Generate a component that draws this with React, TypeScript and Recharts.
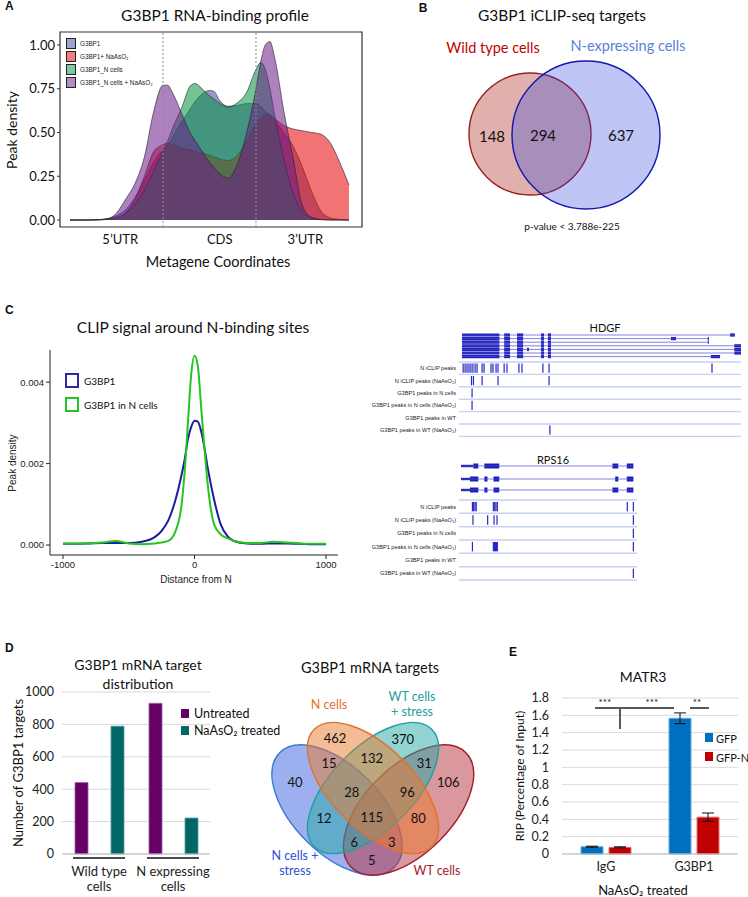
import React from "react";
import {
  AreaChart,
  Area,
  LineChart,
  Line,
  BarChart,
  Bar,
  ErrorBar,
  ScatterChart,
  Scatter,
  XAxis,
  YAxis,
  CartesianGrid,
  ReferenceLine,
  ReferenceArea,
} from "recharts";

const CAL = "Lato, 'Open Sans', sans-serif";
const ARIAL = "'Liberation Sans', Arial, sans-serif";

// ---------- A: metagene profile ----------
const metaPos = [0, 0.1, 0.2, 0.3, 0.4, 0.5, 0.6, 0.7, 0.8, 0.9, 1.0, 1.05, 1.1, 1.2, 1.3, 1.35, 1.4, 1.5, 1.55, 1.6, 1.7, 1.8, 1.9, 2.0, 2.05, 2.1, 2.15, 2.2, 2.3, 2.4, 2.5, 2.6, 2.7, 2.8, 2.9, 3.0];
const g3bp1Density = [0, 0, 0, 0.002, 0.008, 0.025, 0.06, 0.13, 0.23, 0.33, 0.4, 0.43, 0.47, 0.56, 0.64, 0.68, 0.71, 0.74, 0.735, 0.69, 0.65, 0.655, 0.665, 0.665, 0.65, 0.62, 0.6, 0.57, 0.5, 0.42, 0.3, 0.16, 0.05, 0.012, 0.003, 0];
const g3bp1ArsDensity = [0, 0, 0, 0.001, 0.004, 0.01, 0.04, 0.12, 0.25, 0.39, 0.43, 0.44, 0.43, 0.41, 0.4, 0.39, 0.385, 0.37, 0.36, 0.35, 0.34, 0.37, 0.45, 0.55, 0.58, 0.6, 0.6, 0.58, 0.54, 0.52, 0.51, 0.5, 0.49, 0.44, 0.33, 0.2];
const g3bp1NDensity = [0, 0, 0, 0, 0.004, 0.015, 0.04, 0.09, 0.17, 0.28, 0.39, 0.45, 0.52, 0.64, 0.77, 0.78, 0.76, 0.71, 0.69, 0.67, 0.645, 0.67, 0.73, 0.86, 0.9, 0.86, 0.75, 0.6, 0.35, 0.15, 0.05, 0.01, 0.002, 0, 0, 0];
const g3bp1NArsDensity = [0, 0, 0, 0.002, 0.006, 0.04, 0.12, 0.21, 0.36, 0.62, 0.77, 0.77, 0.73, 0.61, 0.49, 0.45, 0.41, 0.33, 0.3, 0.27, 0.24, 0.32, 0.5, 0.75, 0.9, 1.0, 1.02, 0.93, 0.62, 0.35, 0.08, 0.015, 0.003, 0, 0, 0];
const regionTickPos = [0.54, 1.61, 2.53];
const regionNames = ["5’UTR", "CDS", "3’UTR"];
const regionBounds = [1, 2];
const densityTicks = [0, 0.25, 0.5, 0.75, 1];

const profileSeries = [
  { key: "g3bp1", name: "G3BP1", fill: "#3f479f", swatch: "#9fa3cf" },
  { key: "g3bp1Ars", name: "G3BP1+ NaAsO₂", fill: "#e80000", swatch: "#f47c7c" },
  { key: "g3bp1N", name: "G3BP1_N cells", fill: "#009141", swatch: "#7cc8a0" },
  { key: "g3bp1NArs", name: "G3BP1_N cells + NaAsO₂", fill: "#691989", swatch: "#b48cc4" },
];

const profileRows = metaPos.map((pos, i) => ({
  pos,
  g3bp1: g3bp1Density[i],
  g3bp1Ars: g3bp1ArsDensity[i],
  g3bp1N: g3bp1NDensity[i],
  g3bp1NArs: g3bp1NArsDensity[i],
}));

// ---------- B: two-set Venn ----------
const iclipSetNames = ["Wild type cells", "N-expressing cells"];
const iclipCounts = [148, 294, 637];

// ---------- C: CLIP signal ----------
const distances = [-1000, -900, -800, -700, -600, -500, -400, -300, -250, -200, -150, -100, -75, -50, -25, 0, 25, 50, 75, 100, 150, 200, 250, 300, 400, 500, 600, 700, 800, 900, 1000];
const g3bp1Signal = [0.00003, 0.00003, 0.00004, 0.00005, 0.00005, 0.00005, 0.00008, 0.0002, 0.00035, 0.0006, 0.00105, 0.0017, 0.0021, 0.0026, 0.0029, 0.00305, 0.00303, 0.0028, 0.0024, 0.0019, 0.0011, 0.0005, 0.00022, 0.0001, 0.00004, 0.00003, 0.00004, 0.00004, 0.00003, 0.00002, 0.00002];
const g3bp1NSignal = [0.00004, 0.00004, 0.00004, 0.00006, 0.0001, 0.00004, 0.00002, 0.00004, 0.00006, 0.0001, 0.0003, 0.00095, 0.0018, 0.003, 0.0042, 0.00465, 0.0044, 0.0034, 0.0024, 0.0015, 0.0005, 0.00026, 0.00017, 0.0001, 0.00005, 0.00005, 0.00008, 0.00006, 0.00004, 0.00003, 0.00003];
const signalRows = distances.map((d, i) => ({ d, g3bp1: g3bp1Signal[i], g3bp1N: g3bp1NSignal[i] }));

// genome browser tracks
const trackNames = [
  "N iCLIP peaks",
  "N iCLIP peaks (NaAsO₂)",
  "G3BP1 peaks in N cells",
  "G3BP1 peaks in N cells (NaAsO₂)",
  "G3BP1 peaks in WT",
  "G3BP1 peaks in WT (NaAsO₂)",
];
const hdgfCommon = [[0, 13.4], [15.1, 17.2], [19.7, 21.9], [28.3, 29.4], [30.8, 31.9]];
const hdgfTranscripts = [
  { end: 97.8, utr: [], exons: [...hdgfCommon, [96.1, 97.8]] },
  { end: 88.5, utr: [], exons: [...hdgfCommon, [74.9, 76.7], [88.1, 88.5]] },
  { end: 88.5, utr: [], exons: [...hdgfCommon, [88.1, 88.5]] },
  { end: 100, utr: [], exons: [...hdgfCommon, [97.6, 100]] },
  { end: 100, utr: [], exons: [...hdgfCommon, [23.3, 24.0], [97.6, 100]] },
  { end: 100, utr: [], exons: [...hdgfCommon, [97.6, 100]] },
  { end: 92.5, utr: [], exons: [...hdgfCommon, [89.2, 92.5]] },
];
const hdgfPeaks = [
  [0.4, 1.1, 1.8, 2.5, 3.2, 3.9, 4.7, 5.4, 7.2, 7.9, 10.4, 11.1, 12.2, 12.9, 15.1, 16.1, 20.4, 21.5, 29.0, 31.2, 89.6],
  [3.4, 4.1, 7.2, 12.9, 31.2],
  [3.6],
  [3.6],
  [],
  [31.5],
];
const rps16Transcripts = [
  { end: 99.6, utr: [[0, 7.1]], exons: [[7.1, 10], [13.5, 22.1], [87.5, 90.9], [95.8, 99.6]] },
  { end: 99.6, utr: [[0, 5.2]], exons: [[5.2, 10], [13.5, 15.3], [18.8, 22.1], [89.1, 90.9], [95.8, 99.6]] },
  { end: 99.6, utr: [[0, 5.2]], exons: [[5.2, 10], [13.5, 15.3], [18.8, 22.1], [87.5, 90.9], [95.8, 99.6]] },
];
const rps16Peaks = [
  [6.6, 7.3, 8.1, 8.8, 18.7, 19.5, 20.2, 21.0, 96.1, 99.6],
  [6.9, 15.4, 19.1, 20.8, 99.6],
  [99.6],
  [6.6, 18.7, 19.3, 19.9, 20.5, 21.0, 99.6],
  [],
  [99.6],
];

// ---------- D: target counts ----------
const targetGroups = ["Wild type cells", "N expressing cells"];
const targetGroupLines = [["Wild type", "cells"], ["N expressing", "cells"]];
const untreatedTargets = [441, 930];
const arseniteTargets = [789, 222];
const targetTicks = [0, 200, 400, 600, 800, 1000];
const targetRows = targetGroups.map((g, i) => ({ g, untreated: untreatedTargets[i], ars: arseniteTargets[i] }));

const quadCounts = [462, 370, 15, 132, 31, 40, 106, 28, 96, 115, 12, 80, 6, 3, 5];

// ---------- E: MATR3 RIP ----------
const ripCats = ["IgG", "G3BP1"];
const ripGfp = [0.084, 1.566];
const ripGfpErr = [0.006, 0.062];
const ripGfpN = [0.077, 0.425];
const ripGfpNErr = [0.006, 0.048];
const ripTicks = [0, 0.2, 0.4, 0.6, 0.8, 1, 1.2, 1.4, 1.6, 1.8];
const ripRows = ripCats.map((c, i) => ({ c, gfp: ripGfp[i], gfpErr: ripGfpErr[i], gfpN: ripGfpN[i], gfpNErr: ripGfpNErr[i] }));

// ---------- layout constants ----------
const vennBLayout = {
  circles: [
    { x: 150, y: 134, r: 61, fill: "#b03a30", op: 0.4, stroke: "#a01c1c" },
    { x: 206, y: 135, r: 74, fill: "#2a40dd", op: 0.3, stroke: "#1414b0" },
  ],
  labelPos: [[112, 136], [163, 135], [241, 135]],
};
const vennDLayout = {
  ellipses: [
    { x: 87, y: 180, rx: 81, ry: 43.5, rot: 45, fill: "#3a62e0", stroke: "#3a7bd5" },
    { x: 158.6, y: 180, rx: 81, ry: 43.5, rot: -45, fill: "#b8303e", stroke: "#a51d2d" },
    { x: 123, y: 158, rx: 83, ry: 41, rot: -45, fill: "#26a8a8", stroke: "#1f9fa0" },
    { x: 123, y: 158, rx: 83, ry: 41, rot: 45, fill: "#ea7a2c", stroke: "#e0722a" },
  ],
  labelPos: [[85, 108], [152.7, 109], [79, 133], [121.7, 128], [174.3, 133], [45, 151.7], [198.3, 151.7], [101.7, 161.7], [157.3, 161.7], [121.7, 186.7], [74, 188], [168.3, 188], [104.3, 211.7], [141.7, 211.7], [121.7, 230]],
};

// ---------- helpers ----------
const Txt = ({ x, y, size = 12, color = "#111", weight = 400, font = CAL, rotate = 0, align = "center", children }: any) => (
  <div
    style={{
      position: "absolute",
      left: x,
      top: y,
      transform: `translate(${align === "center" ? "-50%" : align === "right" ? "-100%" : "0"}, -50%) rotate(${rotate}deg)`,
      fontSize: size,
      color,
      fontWeight: weight,
      fontFamily: font,
      whiteSpace: "nowrap",
      lineHeight: 1,
    }}
  >
    {children}
  </div>
);

const Box = ({ x, y, w, h, fill, border }: any) => (
  <div style={{ position: "absolute", left: x, top: y, width: w, height: h, background: fill, border, boxSizing: "border-box" }} />
);

const Abs = ({ x, y, children }: any) => <div style={{ position: "absolute", left: x, top: y }}>{children}</div>;

function VennChart({ w, h, shapes, labels, fontSize }: any) {
  return (
    <ScatterChart width={w} height={h} margin={{ top: 0, right: 0, bottom: 0, left: 0 }}>
      <XAxis type="number" dataKey="x" domain={[0, w]} hide />
      <YAxis type="number" dataKey="y" domain={[0, h]} reversed hide />
      <Scatter
        data={shapes}
        isAnimationActive={false}
        shape={(p: any) => (
          <ellipse
            cx={p.cx}
            cy={p.cy}
            rx={p.payload.rx}
            ry={p.payload.ry}
            transform={`rotate(${p.payload.rot} ${p.cx} ${p.cy})`}
            fill={p.payload.fill}
            fillOpacity={p.payload.op}
            stroke={p.payload.stroke}
            strokeWidth={1.4}
          />
        )}
      />
      <Scatter
        data={labels}
        isAnimationActive={false}
        shape={(p: any) => (
          <text x={p.cx} y={p.cy} textAnchor="middle" dominantBaseline="central" fontSize={fontSize} fontFamily={CAL} fill="#111">
            {p.payload.n}
          </text>
        )}
      />
    </ScatterChart>
  );
}

const TrackTick = (props: any) => {
  const { x, y, index } = props;
  return (
    <text x={x} y={y} textAnchor="end" dominantBaseline="central" fontSize={5.6} fontFamily={ARIAL} fill="#222">
      {trackNames[index]}
    </text>
  );
};

function GeneTracks({ w, h, margin, xDomain, yDomain, transcripts, rowY, exonH, utrH, seps, peaks, peakHalf }: any) {
  const centers = seps.slice(0, trackNames.length).map((s: number, i: number) => (s + seps[i + 1]) / 2);
  const peakPts = peaks.flatMap((list: number[], t: number) => list.map((x) => ({ x, y: centers[t] })));
  return (
    <ScatterChart width={w} height={h} margin={margin}>
      <XAxis type="number" dataKey="x" domain={xDomain} hide allowDataOverflow />
      <YAxis
        type="number"
        dataKey="y"
        domain={yDomain}
        reversed
        width={89}
        ticks={centers}
        interval={0}
        axisLine={false}
        tickLine={false}
        tickSize={1}
        tickMargin={2}
        tick={<TrackTick />}
        allowDataOverflow
      />
      {seps.map((s: number, i: number) => (
        <ReferenceLine key={"s" + i} y={s} stroke="#c9d1f2" strokeWidth={1.4} />
      ))}
      {transcripts.map((t: any, i: number) => (
        <ReferenceLine
          key={"i" + i}
          segment={[{ x: 0, y: rowY[i] }, { x: t.end, y: rowY[i] }]}
          stroke="#4a4ad8"
          strokeWidth={0.7}
        />
      ))}
      {transcripts.flatMap((t: any, i: number) =>
        t.utr.map((e: number[], j: number) => (
          <ReferenceArea key={`u${i}-${j}`} x1={e[0]} x2={e[1]} y1={rowY[i] - utrH / 2} y2={rowY[i] + utrH / 2} fill="#1c1cb8" fillOpacity={1} stroke="none" />
        ))
      )}
      {transcripts.flatMap((t: any, i: number) =>
        t.exons.map((e: number[], j: number) => (
          <ReferenceArea key={`e${i}-${j}`} x1={e[0]} x2={e[1]} y1={rowY[i] - exonH / 2} y2={rowY[i] + exonH / 2} fill="#1c1cb8" fillOpacity={1} stroke="none" />
        ))
      )}
      <Scatter
        data={peakPts}
        isAnimationActive={false}
        shape={(p: any) => <line x1={p.cx} x2={p.cx} y1={p.cy - peakHalf} y2={p.cy + peakHalf} stroke="#2727c4" strokeWidth={1.2} />}
      />
    </ScatterChart>
  );
}

const GroupTick = (props: any) => {
  const { x, index, payload } = props;
  const lines = targetGroupLines[index] ?? [payload.value];
  return (
    <g>
      <line x1={x - 26} x2={x + 26} y1={228} y2={228} stroke="#111" strokeWidth={1.6} />
      {lines.map((l: string, i: number) => (
        <text key={i} x={x} y={241 + i * 15} textAnchor="middle" dominantBaseline="central" fontSize={13} fontFamily={CAL} fill="#222">
          {l}
        </text>
      ))}
    </g>
  );
};

const HLine = ({ x1, x2, y }: any) => (
  <div style={{ position: "absolute", left: x1, top: y - 0.6, width: x2 - x1, height: 1.2, background: "#595959" }} />
);
const VLine = ({ x, y1, y2 }: any) => (
  <div style={{ position: "absolute", left: x - 0.6, top: y1, width: 1.2, height: y2 - y1, background: "#595959" }} />
);

export default function App() {
  const bShapes = vennBLayout.circles.map((c) => ({ x: c.x, y: c.y, rx: c.r, ry: c.r, rot: 0, fill: c.fill, op: c.op, stroke: c.stroke }));
  const bLabels = iclipCounts.map((n, i) => ({ n, x: vennBLayout.labelPos[i][0], y: vennBLayout.labelPos[i][1] }));
  const dShapes = vennDLayout.ellipses.map((e) => ({ ...e, op: 0.5 }));
  const dLabels = quadCounts.map((n, i) => ({ n, x: vennDLayout.labelPos[i][0], y: vennDLayout.labelPos[i][1] }));

  return (
    <div style={{ position: "absolute", left: 0, top: 0, width: 748, height: 897, overflow: "hidden", background: "#fff" }}>
      {/* ---------- A ---------- */}
      <Abs x={0} y={0}>
        <AreaChart width={370} height={275} data={profileRows} margin={{ top: 32, right: 8, bottom: 18, left: 20 }}>
          <XAxis
            type="number"
            dataKey="pos"
            domain={[-0.1075, 3.14]}
            ticks={regionTickPos}
            interval={0}
            tickFormatter={(v: number) => regionNames[regionTickPos.indexOf(v)]}
            axisLine={false}
            tickLine={false}
            tick={{ fontSize: 13, fill: "#111", fontFamily: CAL }}
            allowDataOverflow
          />
          <YAxis
            domain={[-0.04, 1.0743]}
            ticks={densityTicks}
            interval={0}
            tickFormatter={(v: number) => v.toFixed(2)}
            width={40}
            axisLine={false}
            tickLine={{ stroke: "#333" }}
            tickSize={3}
            tick={{ fontSize: 13, fill: "#111", fontFamily: CAL }}
            allowDataOverflow
          />
          {profileSeries.map((s) => (
            <Area
              key={s.key}
              dataKey={s.key}
              type="monotone"
              fill={s.fill}
              fillOpacity={0.55}
              stroke="#222"
              strokeWidth={0.6}
              baseValue={0}
              dot={false}
              activeDot={false}
              isAnimationActive={false}
            />
          ))}
          {regionBounds.map((b) => (
            <ReferenceLine key={b} x={b} stroke="#8a8a8a" strokeDasharray="2 2" strokeWidth={1} />
          ))}
          <ReferenceArea x1={-0.1075} x2={3.14} y1={-0.04} y2={1.0743} fill="none" stroke="#333" strokeWidth={1.2} />
        </AreaChart>
      </Abs>
      {profileSeries.map((s, i) => (
        <React.Fragment key={s.key}>
          <Box x={66} y={38 + i * 13} w={10} h={11} fill={s.swatch} border="1.3px solid #222" />
          <Txt x={80} y={43.5 + i * 13} size={6.3} font={ARIAL} align="left" color="#222">
            {s.name}
          </Txt>
        </React.Fragment>
      ))}
      <Txt x={5} y={6} size={12} weight={700} font={ARIAL} align="left">A</Txt>
      <Txt x={215} y={16} size={15.5}>G3BP1 RNA-binding profile</Txt>
      <Txt x={12} y={130} size={14} rotate={-90}>Peak density</Txt>
      <Txt x={218} y={262} size={14.5}>Metagene Coordinates</Txt>

      {/* ---------- B ---------- */}
      <Abs x={380} y={0}>
        <VennChart w={368} h={270} shapes={bShapes} labels={bLabels} fontSize={15} />
      </Abs>
      <Txt x={423} y={8} size={12} weight={700} font={ARIAL}>B</Txt>
      <Txt x={562} y={16} size={15.5}>G3BP1 iCLIP-seq targets</Txt>
      <Txt x={493} y={48} size={14.5} color="#c00000">{iclipSetNames[0]}</Txt>
      <Txt x={628} y={46} size={14.5} color="#5a7fd8">{iclipSetNames[1]}</Txt>
      <Txt x={572} y={226} size={10}>p-value &lt; 3.788e-225</Txt>

      {/* ---------- C ---------- */}
      <Abs x={0} y={290}>
        <LineChart width={370} height={330} data={signalRows} margin={{ top: 60, right: 32, bottom: 35, left: 10 }}>
          <XAxis
            type="number"
            dataKey="d"
            domain={[-1099, 1091]}
            ticks={[-1000, 0, 1000]}
            interval={0}
            axisLine={{ stroke: "#222" }}
            tickLine={{ stroke: "#222" }}
            tickSize={4}
            tick={{ fontSize: 9.5, fill: "#222", fontFamily: ARIAL }}
            allowDataOverflow
          />
          <YAxis
            domain={[-0.000245, 0.00479]}
            ticks={[0, 0.002, 0.004]}
            interval={0}
            tickFormatter={(v: number) => v.toFixed(3)}
            width={40}
            axisLine={{ stroke: "#222" }}
            tickLine={{ stroke: "#222" }}
            tickSize={4}
            tick={{ fontSize: 9.5, fill: "#222", fontFamily: ARIAL }}
            allowDataOverflow
          />
          <Line dataKey="g3bp1" type="monotone" stroke="#1c1c9c" strokeWidth={2} dot={false} activeDot={false} isAnimationActive={false} />
          <Line dataKey="g3bp1N" type="monotone" stroke="#22c522" strokeWidth={2} dot={false} activeDot={false} isAnimationActive={false} />
        </LineChart>
      </Abs>
      <Box x={65} y={373} w={14} h={15} fill="#fff" border="2px solid #2a2aa8" />
      <Box x={65} y={397} w={14} h={15} fill="#fff" border="2px solid #22c522" />
      <Txt x={84} y={381} size={10} align="left">G3BP1</Txt>
      <Txt x={84} y={404.5} size={10} align="left">G3BP1 in N cells</Txt>
      <Txt x={5} y={310} size={12} weight={700} font={ARIAL} align="left">C</Txt>
      <Txt x={193} y={328} size={15.5}>CLIP signal around N-binding sites</Txt>
      <Txt x={13} y={463} size={10} font={ARIAL} rotate={-90} color="#222">Peak density</Txt>
      <Txt x={196} y={580} size={10} font={ARIAL} color="#222">Distance from N</Txt>

      <Abs x={370} y={320}>
        <GeneTracks
          w={378}
          h={125}
          margin={{ top: 10, right: 7, bottom: 5, left: 0 }}
          xDomain={[-1.08, 100]}
          yDomain={[0, 110]}
          transcripts={hdgfTranscripts}
          rowY={[5, 8.6, 12.2, 15.8, 19.4, 23, 26.6]}
          exonH={3.2}
          utrH={2}
          seps={[32, 44.4, 56.8, 69.2, 81.6, 94, 106.4]}
          peaks={hdgfPeaks}
          peakHalf={4.6}
        />
      </Abs>
      <Txt x={605} y={327} size={11}>HDGF</Txt>
      <Abs x={370} y={455}>
        <GeneTracks
          w={378}
          h={135}
          margin={{ top: 5, right: 111, bottom: 5, left: 0 }}
          xDomain={[-1.16, 101.7]}
          yDomain={[0, 125]}
          transcripts={rps16Transcripts}
          rowY={[6, 19, 30]}
          exonH={5}
          utrH={2.4}
          seps={[40, 53.3, 66.7, 80, 93.3, 106.7, 120]}
          peaks={rps16Peaks}
          peakHalf={4.7}
        />
      </Abs>
      <Txt x={553} y={459} size={11}>RPS16</Txt>

      {/* ---------- D ---------- */}
      <Abs x={0} y={630}>
        <BarChart width={250} height={267} data={targetRows} margin={{ top: 62, right: 40, bottom: 13, left: 22 }} barSize={13} barGap={23} barCategoryGap={12}>
          <CartesianGrid vertical={false} stroke="#d9d9d9" />
          <XAxis dataKey="g" axisLine={{ stroke: "#bfbfbf" }} tickLine={false} tick={<GroupTick />} interval={0} />
          <YAxis
            domain={[0, 1000]}
            ticks={targetTicks}
            interval={0}
            width={40}
            axisLine={false}
            tickLine={false}
            tick={{ fontSize: 12.5, fill: "#222", fontFamily: CAL }}
          />
          <Bar dataKey="untreated" fill="#660066" stroke="#a064a0" strokeWidth={0.8} isAnimationActive={false} />
          <Bar dataKey="ars" fill="#006666" stroke="#5a9a9a" strokeWidth={0.8} isAnimationActive={false} />
        </BarChart>
      </Abs>
      <Txt x={5} y={648} size={12} weight={700} font={ARIAL} align="left">D</Txt>
      <Txt x={138} y={665} size={14}>G3BP1 mRNA target</Txt>
      <Txt x={138} y={684} size={14}>distribution</Txt>
      <Txt x={18} y={773} size={13} rotate={-90}>Number of G3BP1 targets</Txt>
      <Box x={181} y={709} w={8} h={9} fill="#660066" />
      <Txt x={194} y={713.5} size={12.5} align="left">Untreated</Txt>
      <Box x={181} y={726} w={8} h={9} fill="#006666" />
      <Txt x={194} y={731} size={12.5} align="left">NaAsO₂ treated</Txt>

      <Abs x={250} y={630}>
        <VennChart w={260} h={267} shapes={dShapes} labels={dLabels} fontSize={13} />
      </Abs>
      <Txt x={370} y={668} size={14.5}>G3BP1 mRNA targets</Txt>
      <Txt x={329} y={705} size={12.5} color="#e07030">N cells</Txt>
      <Txt x={412} y={696.5} size={12.5} color="#22a0a0">WT cells</Txt>
      <Txt x={412} y={711.5} size={12.5} color="#22a0a0">+ stress</Txt>
      <Txt x={295} y={856} size={12.5} color="#3050d8">N cells +</Txt>
      <Txt x={295} y={871} size={12.5} color="#3050d8">stress</Txt>
      <Txt x={437} y={871} size={12.5} color="#a82028">WT cells</Txt>

      {/* ---------- E ---------- */}
      <Abs x={520} y={630}>
        <BarChart width={228} height={267} data={ripRows} margin={{ top: 68, right: 10, bottom: 13, left: 12 }} barSize={22} barGap={6} barCategoryGap={19}>
          <CartesianGrid vertical={false} stroke="#d9d9d9" />
          <XAxis dataKey="c" axisLine={{ stroke: "#bfbfbf" }} tickLine={false} interval={0} tick={{ fontSize: 12.5, fill: "#222", fontFamily: CAL }} />
          <YAxis
            domain={[0, 1.8]}
            ticks={ripTicks}
            interval={0}
            tickFormatter={(v: number) => (Number.isInteger(v) ? String(v) : v.toFixed(1))}
            width={30}
            axisLine={false}
            tickLine={false}
            tickMargin={7}
            tick={{ fontSize: 12.5, fill: "#222", fontFamily: CAL }}
          />
          <Bar dataKey="gfp" fill="#0070c0" stroke="#6fa8dc" strokeWidth={1} isAnimationActive={false}>
            <ErrorBar dataKey="gfpErr" width={6} stroke="#111" strokeWidth={1} direction="y" />
          </Bar>
          <Bar dataKey="gfpN" fill="#c00000" stroke="#e07070" strokeWidth={1} isAnimationActive={false}>
            <ErrorBar dataKey="gfpNErr" width={6} stroke="#111" strokeWidth={1} direction="y" />
          </Bar>
        </BarChart>
      </Abs>
      <HLine x1={595} x2={674} y={708} />
      <VLine x={620} y1={708} y2={729} />
      <HLine x1={690} x2={709} y={708} />
      <Txt x={513} y={652} size={12} weight={700} font={ARIAL}>E</Txt>
      <Txt x={643} y={677} size={14}>MATR3</Txt>
      <Txt x={605} y={702} size={10}>***</Txt>
      <Txt x={652} y={702} size={10}>***</Txt>
      <Txt x={697} y={702} size={10}>**</Txt>
      <Txt x={520} y={776} size={12} rotate={-90}>RIP (Percentage of Input)</Txt>
      <Box x={705} y={733} w={8} h={9} fill="#0070c0" />
      <Txt x={716} y={737.5} size={11} align="left">GFP</Txt>
      <Box x={705} y={752} w={8} h={9} fill="#c00000" />
      <Txt x={716} y={756.5} size={11} align="left">GFP-N</Txt>
      <Txt x={643} y={890} size={13}>NaAsO₂ treated</Txt>
    </div>
  );
}
